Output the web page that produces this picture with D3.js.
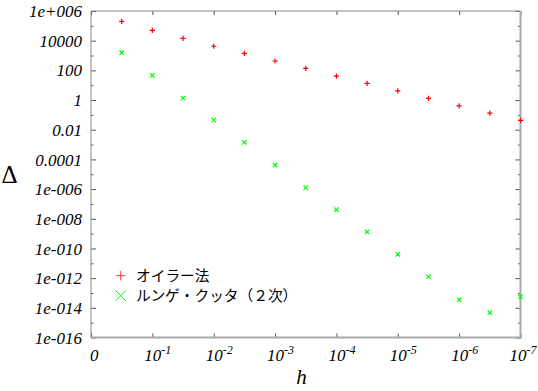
<!DOCTYPE html>
<html>
<head>
<meta charset="utf-8">
<script src="https://cdn.jsdelivr.net/npm/d3@7"></script>
<style>
    body { margin: 0; background: #fff; }
</style>
</head>
<body>
<div id="chart"></div>
<script>

// step sizes h (half decades, 10^-0.5 ... 10^-7)
let hValues = [3.162e-1, 1e-1, 3.162e-2, 1e-2, 3.162e-3, 1e-3, 3.162e-4, 1e-4,
    3.162e-5, 1e-5, 3.162e-6, 1e-6, 3.162e-7, 1e-7];

// error of euler method
let eulerErr = [2.0e5, 5.0e4, 1.45e4, 4.2e3, 1.41e3, 4.27e2, 1.35e2, 40.7,
    13.2, 4.17, 1.29, 0.407, 0.132, 0.0422];

// error of runge-kutta (2nd order)
let rk2Err = [1.55e3, 45.7, 1.35, 0.0442, 1.38e-3, 4.07e-5, 1.26e-6, 4.17e-8,
    1.29e-9, 3.98e-11, 1.26e-12, 3.55e-14, 4.68e-15, 5.62e-14];

let seriesNames = ["オイラー法", "ルンゲ・クッタ（２次）"];

// axis ticks
let yMajor = [1e6, 1e4, 1e2, 1, 1e-2, 1e-4, 1e-6, 1e-8, 1e-10, 1e-12, 1e-14, 1e-16];
let yLabels = ["1e+006", "10000", "100", "1", "0.01", "0.0001", "1e-006", "1e-008",
    "1e-010", "1e-012", "1e-014", "1e-016"];
let yMinor = [1e5, 1e3, 1e1, 1e-1, 1e-3, 1e-5, 1e-7, 1e-9, 1e-11, 1e-13, 1e-15];
let xMajor = [1, 1e-1, 1e-2, 1e-3, 1e-4, 1e-5, 1e-6, 1e-7];
let xExp = ["0", "-1", "-2", "-3", "-4", "-5", "-6", "-7"];

let width = 538, height = 391;
let margin = {top: 11, right: 17.5, bottom: 53.5, left: 91};
let serif = "Liberation Serif";

let svg = d3.select("#chart").append("svg")
    .attr("width", width)
    .attr("height", height);

// scales, x is reversed (big h on the left)
let x = d3.scaleLog()
    .domain([1, 1e-7])
    .range([margin.left, width - margin.right]);
let y = d3.scaleLog()
    .domain([1e-16, 1e6])
    .range([height - margin.bottom, margin.top]);

let x0 = x.range()[0], x1 = x.range()[1];
let y0 = y.range()[0], y1 = y.range()[1];

// y axis left: majors with labels, inward ticks
let yAxisL = svg.append("g")
    .attr("transform", "translate(" + x0 + ",0)")
    .call(d3.axisLeft(y).tickValues(yMajor).tickSize(-5).tickPadding(9)
        .tickFormat((d, i) => yLabels[i]));
yAxisL.attr("font-family", serif).attr("font-size", 17);
yAxisL.selectAll("text")
    .attr("font-family", serif)
    .attr("font-style", "italic")
    .attr("font-size", 17)
    .attr("fill", "#000")
    .attr("dy", "0.33em");

svg.append("g")
    .attr("transform", "translate(" + x0 + ",0)")
    .call(d3.axisLeft(y).tickValues(yMinor).tickSize(-2.5).tickFormat(""));

// y axis right (mirror)
svg.append("g")
    .attr("transform", "translate(" + x1 + ",0)")
    .call(d3.axisRight(y).tickValues(yMajor).tickSize(-5).tickFormat(""));
svg.append("g")
    .attr("transform", "translate(" + x1 + ",0)")
    .call(d3.axisRight(y).tickValues(yMinor).tickSize(-2.5).tickFormat(""));

// x axis bottom and top
svg.append("g")
    .attr("transform", "translate(0," + y0 + ")")
    .call(d3.axisBottom(x).tickValues(xMajor).tickSize(-4).tickFormat(""));
svg.append("g")
    .attr("transform", "translate(0," + y1 + ")")
    .call(d3.axisTop(x).tickValues(xMajor).tickSize(-4).tickFormat(""));

svg.selectAll(".domain").remove();
svg.selectAll(".tick line").attr("stroke", "#555");

// x tick labels 10^n
xMajor.forEach(function(d, i) {
    let t = svg.append("text")
        .attr("font-family", serif)
        .attr("font-style", "italic")
        .attr("font-size", 17)
        .attr("y", y0 + 23.5);
    if (i === 0) {
        t.attr("x", x(d) - 1).text("0");
    } else {
        t.attr("x", x(d) - 8).text("10");
        t.append("tspan")
            .attr("dy", -7.5)
            .attr("font-size", 12)
            .text(xExp[i]);
        // keep the last label inside the picture
        let w = t.node().getComputedTextLength();
        if (x(d) - 8 + w > width - 1.5) t.attr("x", width - 1.5 - w);
    }
});

// frame
svg.append("line").attr("x1", x0).attr("x2", x1).attr("y1", y1).attr("y2", y1)
    .attr("stroke", "#888").attr("stroke-width", 1);
svg.append("line").attr("x1", x0).attr("x2", x0).attr("y1", y1).attr("y2", y0)
    .attr("stroke", "#888").attr("stroke-width", 1);
svg.append("line").attr("x1", x0).attr("x2", x1 + 1).attr("y1", y0).attr("y2", y0)
    .attr("stroke", "#aaa").attr("stroke-width", 2);
svg.append("line").attr("x1", x1).attr("x2", x1).attr("y1", y1).attr("y2", y0 + 1)
    .attr("stroke", "#aaa").attr("stroke-width", 2);

// axis titles
svg.append("text")
    .attr("x", 1.5).attr("y", 183)
    .attr("font-family", serif)
    .attr("font-size", 25)
    .text("Δ");

svg.append("text")
    .attr("x", 301.5).attr("y", 384)
    .attr("text-anchor", "middle")
    .attr("font-family", serif)
    .attr("font-style", "italic")
    .attr("font-size", 21)
    .text("h");

// point marks
function plusPath(cx, cy, r) {
    return "M" + (cx - r) + "," + cy + "H" + (cx + r) + "M" + cx + "," + (cy - r) + "V" + (cy + r);
}
function crossPath(cx, cy, r) {
    return "M" + (cx - r) + "," + (cy - r) + "L" + (cx + r) + "," + (cy + r) +
        "M" + (cx - r) + "," + (cy + r) + "L" + (cx + r) + "," + (cy - r);
}

let eulerData = hValues.map((h, i) => ({h: h, v: eulerErr[i]}));
let rk2Data = hValues.map((h, i) => ({h: h, v: rk2Err[i]}));

svg.selectAll(".euler")
    .data(eulerData)
    .enter().append("path")
    .attr("class", "euler")
    .attr("d", d => plusPath(x(d.h), y(d.v), 2.6))
    .attr("stroke", "#ff0000")
    .attr("stroke-width", 1.2)
    .attr("fill", "none");

svg.selectAll(".rk2")
    .data(rk2Data)
    .enter().append("path")
    .attr("class", "rk2")
    .attr("d", d => crossPath(x(d.h), y(d.v), 2.2))
    .attr("stroke", "#00ff00")
    .attr("stroke-width", 1.2)
    .attr("fill", "none");

// legend
let legend = svg.append("g");
legend.append("path")
    .attr("d", plusPath(120.7, 275.7, 4.8))
    .attr("stroke", "#ff4040").attr("stroke-width", 1).attr("fill", "none");
legend.append("path")
    .attr("d", crossPath(120.7, 295.7, 5.3))
    .attr("stroke", "#00ff00").attr("stroke-width", 1).attr("fill", "none");
legend.selectAll(".legend-label")
    .data(seriesNames)
    .enter().append("text")
    .attr("class", "legend-label")
    .attr("font-family", "Noto Sans CJK JP")
    .attr("font-size", 14.7)
    .attr("x", 136)
    .attr("y", (d, i) => 281 + i * 20)
    .text(d => d);

</script>
</body>
</html>
